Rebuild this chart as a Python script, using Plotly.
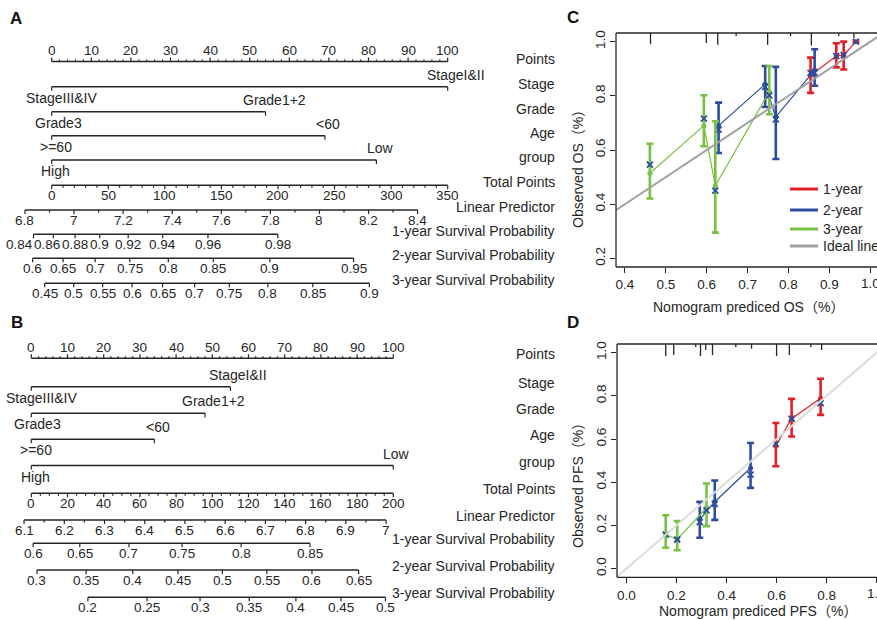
import math
from statistics import NormalDist
import plotly.graph_objects as go

W, H = 877, 620
INK = "#262626"
FONT = "Liberation Sans, Arial, Helvetica, Noto Sans CJK SC, sans-serif"
RED, BLUE, GREEN, GREY = "#E41F27", "#2C4E9F", "#79C043", "#A0A0A0"

# ------------------------------------------------------------------ data
ROW_NAMES = ["Points", "Stage", "Grade", "Age", "group", "Total Points",
             "Linear Predictor", "1-year Survival Probability",
             "2-year Survival Probability", "3-year Survival Probability"]
VAR_LEVELS = [["StageIII&IV", "StageI&II"], ["Grade3", "Grade1+2"],
              [">=60", "<60"], ["High", "Low"]]
SURV_DAYS = [365, 730, 1095]
POINT_TICKS = [0, 10, 20, 30, 40, 50, 60, 70, 80, 90, 100]

# Nomogram A (OS)
A_VAR_POINTS = [[0, 100], [0, 54], [0, 69], [0, 82]]
A_TOTAL_MAX = 350
A_TOTAL_TICKS = [0, 50, 100, 150, 200, 250, 300, 350]
A_LP_TICKS = [6.8, 7.0, 7.2, 7.4, 7.6, 7.8, 8.0, 8.2, 8.4]
A_LP_INTERCEPT = 6.909
A_LP_SLOPE = 0.00461
A_SIGMA = 0.94
A_SURV_1Y = [0.84, 0.86, 0.88, 0.9, 0.92, 0.94, 0.96, 0.98]
A_SURV_2Y = [0.6, 0.65, 0.7, 0.75, 0.8, 0.85, 0.9, 0.95]
A_SURV_3Y = [0.45, 0.5, 0.55, 0.6, 0.65, 0.7, 0.75, 0.8, 0.85, 0.9]

# Nomogram B (PFS)
B_VAR_POINTS = [[0, 55], [0, 48], [0, 34], [0, 100]]
B_TOTAL_MAX = 200
B_TOTAL_TICKS = [0, 20, 40, 60, 80, 100, 120, 140, 160, 180, 200]
B_LP_TICKS = [6.1, 6.2, 6.3, 6.4, 6.5, 6.6, 6.7, 6.8, 6.9, 7.0]
B_LP_INTERCEPT = 6.118
B_LP_SLOPE = 0.0045
B_SIGMA = 0.879
B_SURV_1Y = [0.6, 0.65, 0.7, 0.75, 0.8, 0.85]
B_SURV_2Y = [0.3, 0.35, 0.4, 0.45, 0.5, 0.55, 0.6, 0.65]
B_SURV_3Y = [0.2, 0.25, 0.3, 0.35, 0.4, 0.45, 0.5]

# Calibration C (OS)
C_1Y_X = [0.854, 0.917, 0.935, 0.965]
C_1Y_OBS = [0.876, 0.947, 0.950, 1.000]
C_1Y_LO = [0.811, 0.905, 0.897, 1.000]
C_1Y_HI = [0.941, 0.994, 1.000, 1.000]
C_1Y_COR = [0.885, 0.947, 0.950, 1.000]
C_2Y_X = [0.629, 0.743, 0.769, 0.864]
C_2Y_OBS = [0.690, 0.843, 0.722, 0.895]
C_2Y_LO = [0.589, 0.759, 0.567, 0.837]
C_2Y_HI = [0.775, 0.910, 0.907, 0.972]
C_2Y_COR = [0.675, 0.833, 0.713, 0.885]
C_3Y_X = [0.461, 0.593, 0.621, 0.753]
C_3Y_OBS = [0.514, 0.690, 0.468, 0.815]
C_3Y_LO = [0.421, 0.614, 0.295, 0.732]
C_3Y_HI = [0.623, 0.802, 0.706, 0.910]
C_3Y_COR = [0.546, 0.716, 0.450, 0.802]
C_RUG_X = [0.4625, 0.599, 0.627, 0.672, 0.749, 0.805, 0.856, 0.923, 0.960]
C_RUG_N = [0.9, 0.8, 0.95, 0.25, 0.95, 0.25, 1.0, 0.25, 0.4]
C_X_TICKS = [0.4, 0.5, 0.6, 0.7, 0.8, 0.9, 1.0]
C_Y_TICKS = [0.2, 0.4, 0.6, 0.8, 1.0]

# Calibration D (PFS)
D_1Y_X = [0.597, 0.660, 0.776]
D_1Y_OBS = [0.569, 0.694, 0.789]
D_1Y_LO = [0.474, 0.612, 0.712]
D_1Y_HI = [0.674, 0.786, 0.879]
D_1Y_COR = [0.578, 0.694, 0.766]
D_2Y_X = [0.293, 0.353, 0.496]
D_2Y_OBS = [0.228, 0.310, 0.466]
D_2Y_LO = [0.143, 0.226, 0.374]
D_2Y_HI = [0.309, 0.408, 0.582]
D_2Y_COR = [0.216, 0.300, 0.435]
D_3Y_X = [0.157, 0.203, 0.320]
D_3Y_OBS = [0.158, 0.135, 0.282]
D_3Y_LO = [0.097, 0.085, 0.197]
D_3Y_HI = [0.247, 0.220, 0.394]
D_3Y_COR = [0.158, 0.135, 0.270]
D_RUG_X = [0.157, 0.189, 0.277, 0.296, 0.317, 0.344, 0.437, 0.500, 0.600, 0.651, 0.737, 0.780]
D_RUG_N = [1.0, 0.9, 0.25, 1.0, 0.5, 0.9, 0.25, 0.4, 1.0, 0.9, 0.25, 0.5]
D_X_TICKS = [0.0, 0.2, 0.4, 0.6, 0.8, 1.0]
D_Y_TICKS = [0.0, 0.2, 0.4, 0.6, 0.8, 1.0]

LEGEND_NAMES = ["1-year", "2-year", "3-year", "Ideal line"]

# ------------------------------------------------------------------ layout constants (pixels)
A_ROWS_Y = [61.5, 86.7, 111.7, 135.7, 160.0, 185.3, 210.0, 234.3, 258.3, 283.3]
B_ROWS_Y = [358.3, 386.7, 413.3, 439.3, 465.5, 493.3, 520.0, 543.3, 570.0, 597.3]
A_PX0, A_PX100 = 51.7, 447.7
B_PX0, B_PX100 = 31.3, 393.3
NAME_X = 557
LEGEND_ROWS_Y = [189, 210, 229, 246]

# Arial / Liberation Sans advance widths (per 1000 em) for label spacing
CHAR_W = {".": 278, "S": 667, "t": 278, "a": 556, "g": 556, "e": 556, "I": 278,
          "V": 667, "&": 667, "G": 778, "r": 333, "d": 556, "+": 584, ">": 584,
          "=": 584, "<": 584, "H": 722, "i": 222, "h": 556, "L": 556, "o": 556,
          "w": 722}


def text_width(s, size):
    return sum(CHAR_W.get(c, 556) for c in s) * size / 1000.0


fig = go.Figure()
annotations = []
shapes = []
NORM = NormalDist()


def frange(a, b, step):
    n = int(round((b - a) / step))
    return [round(a + i * step, 6) for i in range(n + 1)]


def spread(xs, texts, size, px_per_unit, gap=1.5):
    """push crowded labels to the left so they do not overlap (right to left)."""
    out = list(xs)
    order = sorted(range(len(out)), key=lambda i: out[i])
    for j in range(len(order) - 2, -1, -1):
        i, k = order[j], order[j + 1]
        need = ((text_width(texts[i], size) + text_width(texts[k], size)) / 2 + gap) / px_per_unit
        if out[k] - out[i] < need:
            out[i] = out[k] - need
    return out


def nomogram(xa, rows_y, var_points, total_max, total_ticks, total_minor,
             lp_ticks, lp_minor, lp0, lp_slope, sigma, surv_lists, name_dy,
             px_per_unit):
    lx, ly = [], []
    tx, ty = [], []

    def seg(x0, x1, y):
        lx.extend([x0, x1, None])
        ly.extend([y, y, None])

    def tick(x, y, length):
        tx.extend([x, x, None])
        ty.extend([y, y + length, None])

    def label(x, y, text, size=13.5, xshift=0):
        annotations.append(dict(x=x, y=y, xref=xa, yref="y", text=text,
                                showarrow=False, xanchor="center", yanchor="middle",
                                xshift=xshift,
                                font=dict(size=size, color=INK, family=FONT)))

    p2t = lambda p: p * total_max / 100.0
    lp2t = lambda lp: (lp - lp0) / lp_slope

    # Points axis
    y = rows_y[0]
    seg(p2t(0), p2t(100), y)
    for p in frange(0, 100, 2):
        tick(p2t(p), y, -4 if p in POINT_TICKS else -2)
    for p in POINT_TICKS:
        label(p2t(p), y - 11, str(p))

    # predictors
    for i, (levels, pts) in enumerate(zip(VAR_LEVELS, var_points)):
        y = rows_y[i + 1]
        seg(p2t(min(pts)), p2t(max(pts)), y)
        for lev, p in zip(levels, pts):
            tick(p2t(p), y, 4)
            sh = 0.14 * text_width(lev, 14)
            if p == 0:
                label(p2t(p), y + 11, lev, 14, sh)
            else:
                label(p2t(p), y - 12, lev, 14, sh)

    # Total points
    y = rows_y[5]
    seg(0, total_max, y)
    for t in frange(0, total_max, total_minor):
        tick(t, y, 4 if t in total_ticks else 2.5)
    for t in total_ticks:
        label(t, y + 10, str(t))

    # Linear predictor
    y = rows_y[6]
    seg(lp2t(lp_ticks[0]), lp2t(lp_ticks[-1]), y)
    for v in frange(lp_ticks[0], lp_ticks[-1], lp_minor):
        major = any(abs(v - m) < 1e-6 for m in lp_ticks)
        tick(lp2t(v), y, 4 if major else 2.5)
    for v in lp_ticks:
        label(lp2t(v), y + 10, "%g" % v)

    # survival probabilities (log-normal survival model scale)
    for k, (days, probs) in enumerate(zip(SURV_DAYS, surv_lists)):
        y = rows_y[7 + k]
        pos = [lp2t(math.log(days) - sigma * NORM.inv_cdf(1 - s)) for s in probs]
        seg(min(pos), max(pos), y)
        for x in pos:
            tick(x, y, 4)
        texts = ["%g" % s for s in probs]
        for x, t in zip(spread(pos, texts, 13.5, px_per_unit), texts):
            label(x, y + 10, t)

    fig.add_trace(go.Scatter(x=lx, y=ly, xaxis=xa, yaxis="y", mode="lines",
                             line=dict(color=INK, width=1.6), hoverinfo="skip",
                             showlegend=False))
    fig.add_trace(go.Scatter(x=tx, y=ty, xaxis=xa, yaxis="y", mode="lines",
                             line=dict(color=INK, width=1.2), hoverinfo="skip",
                             showlegend=False))
    for name, y in zip(ROW_NAMES, rows_y):
        annotations.append(dict(x=NAME_X / W, y=y - name_dy, xref="paper", yref="y",
                                text=name, showarrow=False, xanchor="right",
                                yanchor="middle",
                                font=dict(size=14, color=INK, family=FONT)))


nomogram("x", A_ROWS_Y, A_VAR_POINTS, A_TOTAL_MAX, A_TOTAL_TICKS, 10,
         A_LP_TICKS, 0.1, A_LP_INTERCEPT, A_LP_SLOPE, A_SIGMA,
         [A_SURV_1Y, A_SURV_2Y, A_SURV_3Y], 3, (A_PX100 - A_PX0) / A_TOTAL_MAX)
nomogram("x2", B_ROWS_Y, B_VAR_POINTS, B_TOTAL_MAX, B_TOTAL_TICKS, 5,
         B_LP_TICKS, 0.05, B_LP_INTERCEPT, B_LP_SLOPE, B_SIGMA,
         [B_SURV_1Y, B_SURV_2Y, B_SURV_3Y], 4, (B_PX100 - B_PX0) / B_TOTAL_MAX)


def calib(xa, ya, series, ideal_color, rug_x, rug_n, rug_len, ytop, rng):
    for xs, obs, lo, hi, cor, color in series:
        fig.add_trace(go.Scatter(x=xs, y=obs, xaxis=xa, yaxis=ya, mode="lines",
                                 line=dict(color=color, width=1.2),
                                 hoverinfo="skip", showlegend=False))
        fig.add_trace(go.Scatter(
            x=xs, y=obs, xaxis=xa, yaxis=ya, mode="markers",
            marker=dict(color=color, size=5),
            error_y=dict(type="data", symmetric=False,
                         array=[h - o for h, o in zip(hi, obs)],
                         arrayminus=[o - l for o, l in zip(obs, lo)],
                         color=color, thickness=2.6, width=3.5),
            hoverinfo="skip", showlegend=False))
        fig.add_trace(go.Scatter(x=xs, y=cor, xaxis=xa, yaxis=ya, mode="markers",
                                 marker=dict(symbol="x-thin", size=6,
                                             line=dict(color=BLUE, width=1.8)),
                                 hoverinfo="skip", showlegend=False))
    # rug of predicted values along the top border
    rx, ry = [], []
    for x, n in zip(rug_x, rug_n):
        rx += [x, x, None]
        ry += [ytop, ytop - n * rug_len, None]
    fig.add_trace(go.Scatter(x=rx, y=ry, xaxis=xa, yaxis=ya, mode="lines",
                             line=dict(color=INK, width=1.3), hoverinfo="skip",
                             showlegend=False))
    # ideal line
    fig.add_trace(go.Scatter(x=rng, y=rng, xaxis=xa, yaxis=ya, mode="lines",
                             line=dict(color=ideal_color, width=2),
                             hoverinfo="skip", showlegend=False))


C_X_RANGE = [0.3781, 1.0165]
C_Y_RANGE = [0.168, 1.032]
D_X_RANGE = [-0.0376, 1.0012]
D_Y_RANGE = [-0.04, 1.04]

calib("x3", "y3",
      [(C_1Y_X, C_1Y_OBS, C_1Y_LO, C_1Y_HI, C_1Y_COR, RED),
       (C_2Y_X, C_2Y_OBS, C_2Y_LO, C_2Y_HI, C_2Y_COR, BLUE),
       (C_3Y_X, C_3Y_OBS, C_3Y_LO, C_3Y_HI, C_3Y_COR, GREEN)],
      GREY, C_RUG_X, C_RUG_N, 0.046, C_Y_RANGE[1], [0.3, 1.1])
calib("x4", "y4",
      [(D_1Y_X, D_1Y_OBS, D_1Y_LO, D_1Y_HI, D_1Y_COR, RED),
       (D_2Y_X, D_2Y_OBS, D_2Y_LO, D_2Y_HI, D_2Y_COR, BLUE),
       (D_3Y_X, D_3Y_OBS, D_3Y_LO, D_3Y_HI, D_3Y_COR, GREEN)],
      "#DCDCDC", D_RUG_X, D_RUG_N, 0.056, D_Y_RANGE[1], [-0.1, 1.1])

# legend of panel C (drawn as key lines + labels)
for name, col, y in zip(LEGEND_NAMES, [RED, BLUE, GREEN, GREY], LEGEND_ROWS_Y):
    shapes.append(dict(type="line", xref="paper", yref="paper",
                       x0=790 / W, x1=818 / W, y0=1 - y / H, y1=1 - y / H,
                       line=dict(color=col, width=3)))
    annotations.append(dict(x=821 / W, y=1 - y / H, xref="paper", yref="paper",
                            text=name, showarrow=False, xanchor="left",
                            yanchor="middle",
                            font=dict(size=14, color=INK, family=FONT)))

# plot boxes (left, top, bottom; right side lies beyond the picture)
for ax in ["x3", "x4"]:
    ya = "y" + ax[1:]
    for (x0, y0, x1, y1) in [(0, 0, 0, 1), (0, 1, 1, 1), (0, 0, 1, 0)]:
        shapes.append(dict(type="line", xref=ax + " domain", yref=ya + " domain",
                           x0=x0, y0=y0, x1=x1, y1=y1,
                           line=dict(color=INK, width=1.3)))

# last x tick label of each calibration plot sits on the picture's right edge
for xa, ya, v in [("x3", "y3", C_X_TICKS[-1]), ("x4", "y4", D_X_TICKS[-1])]:
    annotations.append(dict(x=v, y=0, xref=xa, yref=ya + " domain", text="%.1f" % v,
                            showarrow=False, xanchor="center", yanchor="top",
                            yshift=-7, font=dict(size=13.5, color=INK, family=FONT)))

# panel letters and axis titles
for letter, x, y in [("A", 16, 19), ("B", 17, 322), ("C", 573, 17), ("D", 573, 322)]:
    annotations.append(dict(x=x / W, y=1 - y / H, xref="paper", yref="paper",
                            text="<b>%s</b>" % letter, showarrow=False,
                            xanchor="center", yanchor="middle",
                            font=dict(size=17, color="#111", family=FONT)))
for text, x, y, ang in [("Nomogram prediced OS（%）", 748, 307, 0),
                        ("Observed OS（%）", 578, 166, -90),
                        ("Nomogram prediced PFS（%）", 758, 611, 0),
                        ("Observed PFS（%）", 578, 482, -90)]:
    annotations.append(dict(x=x / W, y=1 - y / H, xref="paper", yref="paper",
                            text=text, showarrow=False, textangle=ang,
                            xanchor="center", yanchor="middle",
                            font=dict(size=14, color=INK, family=FONT)))

tickfont = dict(size=13.5, color=INK, family=FONT)
axis_common = dict(showgrid=False, zeroline=False, showline=False, ticks="outside",
                   ticklen=5, tickwidth=1.2, tickcolor=INK, tickfont=tickfont)

fig.update_layout(
    width=W, height=H, margin=dict(l=0, r=0, t=0, b=0, autoexpand=False),
    paper_bgcolor="white", plot_bgcolor="rgba(0,0,0,0)",
    font=dict(family=FONT, color=INK), showlegend=False,
    xaxis=dict(domain=[0, 1], range=[(0 - A_PX0) * A_TOTAL_MAX / (A_PX100 - A_PX0),
                                      (W - A_PX0) * A_TOTAL_MAX / (A_PX100 - A_PX0)],
               visible=False, anchor="y"),
    xaxis2=dict(domain=[0, 1], range=[(0 - B_PX0) * B_TOTAL_MAX / (B_PX100 - B_PX0),
                                       (W - B_PX0) * B_TOTAL_MAX / (B_PX100 - B_PX0)],
                visible=False, anchor="y", overlaying="x"),
    yaxis=dict(domain=[0, 1], range=[H, 0], visible=False, anchor="x"),
    xaxis3=dict(domain=[616 / W, 1], range=C_X_RANGE, anchor="y3",
                tickvals=C_X_TICKS[:-1] + [C_X_TICKS[-1]],
                ticktext=["%.1f" % v for v in C_X_TICKS[:-1]] + [""], **axis_common),
    yaxis3=dict(domain=[1 - 267 / H, 1 - 33 / H], range=C_Y_RANGE, anchor="x3",
                tickvals=C_Y_TICKS, ticktext=["%.1f" % v for v in C_Y_TICKS],
                tickangle=-90, **axis_common),
    xaxis4=dict(domain=[617 / W, 1], range=D_X_RANGE, anchor="y4",
                tickvals=D_X_TICKS,
                ticktext=["%.1f" % v for v in D_X_TICKS[:-1]] + [""], **axis_common),
    yaxis4=dict(domain=[1 - 577.3 / H, 1 - 344 / H], range=D_Y_RANGE, anchor="x4",
                tickvals=D_Y_TICKS, ticktext=["%.1f" % v for v in D_Y_TICKS],
                tickangle=-90, **axis_common),
    annotations=annotations, shapes=shapes,
)

fig.write_html("out.html", config={"displayModeBar": False},
               post_script="document.body.style.margin='0';"
                           "document.body.style.overflow='hidden';"
                           "document.getElementById('{plot_id}').style.overflow='hidden';")
